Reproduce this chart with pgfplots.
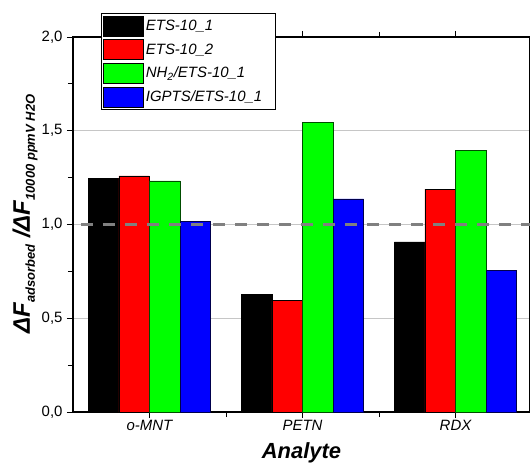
\documentclass[border=0pt]{standalone}
\usepackage{pgfplots}
\pgfplotsset{compat=1.18}
\usepackage{fontspec}
\setmainfont{Liberation Sans}
\newcommand{\sub}[1]{\raisebox{-5bp}{\fontsize{13}{13}\selectfont #1}}
\begin{document}
\begin{tikzpicture}
\begin{axis}[
  scale only axis, width=457bp, height=375bp,
  xmin=-0.5, xmax=2.487, ymin=0, ymax=2,
  axis line style={line width=1.4bp, black},
  xtick={0,1,2}, xticklabels={o-MNT,PETN,RDX},
  minor xtick={0.5,1.5},
  ytick={0,0.5,1,1.5,2}, minor ytick={0.25,0.75,1.25,1.75},
  xtick align=inside, ytick align=outside,
  major tick length=6bp, minor tick length=5bp,
  tick style={black, line width=0.8bp},
  ymajorgrids, grid style={gray!45, line width=0.6bp},
  /pgf/number format/.cd, assume math mode=true, use comma, fixed, fixed zerofill, precision=1,
  /pgfplots/.cd,
  tick label style={font=\fontsize{15}{15}\selectfont},
  xticklabel style={font=\fontsize{15}{15}\selectfont\itshape, yshift=1bp},
  yticklabel style={xshift=-1bp},
  xlabel={\fontsize{22}{22}\selectfont\bfseries\itshape Analyte},
  xlabel style={at={(axis description cs:0.5,-0.109)}, anchor=center},
  ylabel={\fontsize{24}{24}\selectfont\bfseries\itshape ΔF\sub{adsorbed} /ΔF\sub{10000 ppmV H2O}},
  ylabel style={at={(axis description cs:-0.105,0.528)}, anchor=center, rotate=0},
  ybar, bar width=0.2,
  legend style={at={(axis description cs:0.0613,1.064)}, anchor=north west,
    draw=black, line width=0.6bp, font=\fontsize{15}{17}\selectfont\itshape,
    /tikz/every even column/.append style={column sep=4bp},
    row sep=3bp, inner xsep=2bp, inner ysep=2.5bp, cells={anchor=west}},
  legend image code/.code={\draw[#1, draw=black, line width=0.6bp] (0bp,-10bp) rectangle (40bp,10bp);},
]
\addplot[fill=black, draw=black, line width=0.6bp, bar shift=-0.3] coordinates {(0,1.246) (1,0.629) (2,0.907)};
\addplot[fill=red, draw=black, line width=0.6bp, bar shift=-0.1] coordinates {(0,1.259) (1,0.594) (2,1.188)};
\addplot[fill={rgb,255:red,0;green,255;blue,0}, draw=black!70!green, line width=0.6bp, bar shift=0.1] coordinates {(0,1.232) (1,1.545) (2,1.396)};
\addplot[fill=blue, draw=black!70!blue, line width=0.6bp, bar shift=0.3] coordinates {(0,1.017) (1,1.136) (2,0.756)};
\addplot[sharp plot, gray, line width=2.6bp, dash pattern=on 12bp off 10bp, dash phase=-8bp, forget plot] coordinates {(-0.5,1) (2.5,1)};
\legend{ETS-10\_1\hspace*{8bp}, ETS-10\_2, NH\textsubscript{2}/ETS-10\_1, IGPTS/ETS-10\_1\hspace*{9bp}}
\end{axis}
\pgfresetboundingbox
\path (-73bp,-54bp) rectangle (457bp,412bp);
\end{tikzpicture}
\end{document}
